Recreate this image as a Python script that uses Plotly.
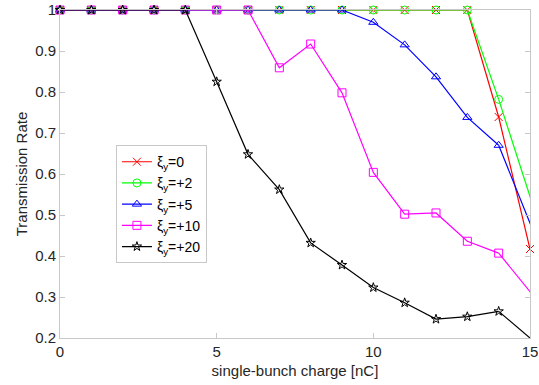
import plotly.graph_objects as go

# single-bunch charge [nC]; most scans skip 15 nC and end one step past the displayed range
charge_red = list(range(0, 16))
charge_scan = list(range(0, 15)) + [16]

# transmission rate for each vertical chromaticity setting
rate_xi0 = [1, 1, 1, 1, 1, 1, 1, 1, 1, 1, 1, 1, 1, 1, 0.739, 0.417]
rate_xi2 = [1, 1, 1, 1, 1, 1, 1, 1, 1, 1, 1, 1, 1, 1, 0.782, 0.308]
rate_xi5 = [1, 1, 1, 1, 1, 1, 1, 1, 1, 1, 0.970, 0.915, 0.837, 0.738, 0.670, 0.290]
rate_xi10 = [1, 1, 1, 1, 1, 1, 1, 0.859, 0.917, 0.798, 0.604, 0.502, 0.505, 0.436, 0.407, 0.219]
rate_xi20 = [1, 1, 1, 1, 1, 0.825, 0.648, 0.562, 0.432, 0.378, 0.323, 0.286, 0.246, 0.252, 0.265, 0.135]

X_MAX = 15

series = [
    ("ξ<sub>y</sub>=0", charge_red, rate_xi0, "#ff0000", "x-thin-open", 8),
    ("ξ<sub>y</sub>=+2", charge_scan, rate_xi2, "#00ff00", "circle-open", 8),
    ("ξ<sub>y</sub>=+5", charge_scan, rate_xi5, "#0000ff", "triangle-up-open", 8),
    ("ξ<sub>y</sub>=+10", charge_scan, rate_xi10, "#ff00ff", "square-open", 8),
    ("ξ<sub>y</sub>=+20", charge_scan, rate_xi20, "#000000", "star-open", 7),
]

fig = go.Figure()
for name, xs, ys, color, symbol, msize in series:
    inside = [i for i, x in enumerate(xs) if x <= X_MAX]
    last = inside[-1]
    # segment leaving the axes: line only, clipped at the plot edge
    if last < len(xs) - 1:
        fig.add_trace(go.Scatter(
            x=xs[last:], y=ys[last:], mode="lines", showlegend=False,
            line=dict(color=color, width=1.2), hoverinfo="skip",
        ))
    # points inside the axes: line with markers, markers never clipped
    fig.add_trace(go.Scatter(
        x=[xs[i] for i in inside], y=[ys[i] for i in inside],
        name=name, mode="lines+markers",
        line=dict(color=color, width=1.2),
        marker=dict(symbol=symbol, size=msize, color=color,
                    line=dict(color=color, width=1)),
        cliponaxis=False,
    ))

FONT = "Liberation Sans, Arial, sans-serif"
axis_common = dict(
    showline=True, linecolor="#c8c8c8", linewidth=1, mirror="ticks",
    ticks="inside", ticklen=5, tickcolor="#c8c8c8",
    showgrid=False, zeroline=False, automargin=False,
    tickfont=dict(family=FONT, size=15, color="#262626"),
)

fig.update_layout(
    width=539, height=385,
    margin=dict(l=60, r=9, t=10, b=47),
    paper_bgcolor="white", plot_bgcolor="white",
    font=dict(family=FONT, size=15, color="#262626"),
    xaxis=dict(range=[0, X_MAX], tickvals=[0, 5, 10, 15],
               title=dict(text="single-bunch charge [nC]", standoff=6,
                          font=dict(size=15)),
               **axis_common),
    yaxis=dict(range=[0.2, 1], tickvals=[0.2, 0.3, 0.4, 0.5, 0.6, 0.7, 0.8, 0.9, 1],
               ticktext=["0.2", "0.3", "0.4", "0.5", "0.6", "0.7", "0.8", "0.9", "1"],
               title=dict(text="Transmission Rate", standoff=3, font=dict(size=15)),
               **axis_common),
    legend=dict(x=0.119, y=0.588, xanchor="left", yanchor="top",
                bgcolor="white", bordercolor="#c8c8c8", borderwidth=1,
                font=dict(size=14, color="#000000"),
                itemwidth=30, tracegroupgap=0),
    showlegend=True,
)

fig.write_html("out.html")
